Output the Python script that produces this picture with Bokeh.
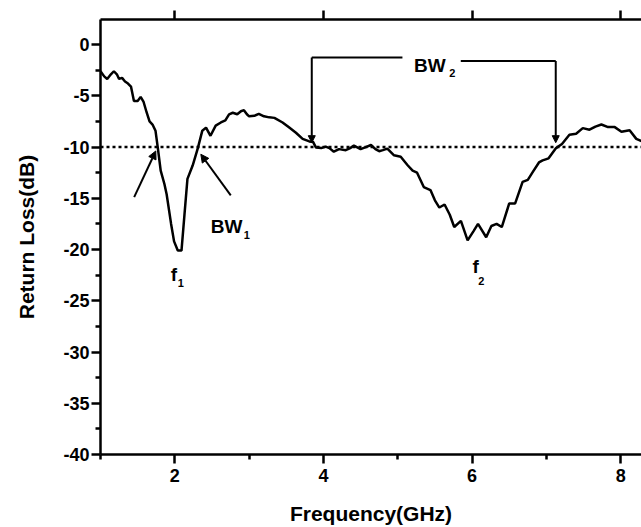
from bokeh.plotting import figure
from bokeh.models import (ColumnDataSource, LinearAxis, FixedTicker, Span, Arrow,
                          NormalHead, Range1d)
from bokeh.embed import file_html
from bokeh.resources import INLINE
from bokeh.core.properties import value

# ---------------- data ----------------
freq = [1.00, 1.05, 1.09, 1.14, 1.18, 1.22, 1.25, 1.29, 1.33, 1.37, 1.41, 1.45, 1.50,
        1.54, 1.58, 1.62, 1.66, 1.70, 1.74, 1.77, 1.81, 1.86, 1.89, 1.95, 1.99, 2.04,
        2.09, 2.13, 2.17, 2.24, 2.31, 2.37, 2.42, 2.48, 2.55, 2.62, 2.68, 2.73, 2.78,
        2.84, 2.89, 2.93, 2.97, 3.00, 3.07, 3.13, 3.20, 3.27, 3.34, 3.45, 3.54, 3.63,
        3.72, 3.81, 3.86, 3.90, 3.97, 4.03, 4.08, 4.14, 4.21, 4.30, 4.36, 4.41, 4.50,
        4.57, 4.64, 4.70, 4.75, 4.80, 4.86, 4.95, 5.04, 5.13, 5.20, 5.26, 5.35, 5.44,
        5.50, 5.56, 5.63, 5.70, 5.76, 5.85, 5.94, 6.02, 6.08, 6.19, 6.26, 6.33, 6.40,
        6.50, 6.58, 6.68, 6.75, 6.82, 6.90, 6.95, 7.03, 7.13, 7.21, 7.31, 7.40, 7.49,
        7.58, 7.66, 7.74, 7.83, 7.92, 8.01, 8.12, 8.21, 8.29]
return_loss = [-2.6, -3.1, -3.35, -2.9, -2.6, -2.9, -3.35, -3.25, -3.6, -3.8, -4.1, -5.5, -5.5,
               -5.1, -5.6, -6.6, -7.5, -7.8, -8.4, -10.0, -12.3, -13.6, -14.6, -17.5, -19.2, -20.1,
               -20.1, -16.6, -13.1, -11.8, -10.1, -8.4, -8.1, -8.9, -7.9, -7.6, -7.4, -6.8, -6.65,
               -6.8, -6.5, -6.4, -6.8, -7.0, -6.95, -6.75, -7.0, -7.1, -7.15, -7.6, -8.1, -8.6,
               -9.2, -9.45, -9.5, -10.05, -10.1, -9.95, -10.1, -10.45, -10.2, -10.3, -10.1, -9.85, -10.2,
               -10.0, -9.8, -10.2, -10.4, -10.3, -10.15, -10.8, -10.95, -11.75, -12.3, -12.5, -13.9, -14.2,
               -15.2, -15.9, -15.6, -16.6, -17.8, -17.2, -19.1, -18.2, -17.5, -18.8, -17.7, -17.5, -17.8,
               -15.5, -15.5, -13.4, -13.2, -12.4, -11.5, -11.3, -11.1, -10.1, -9.7, -8.8, -8.7, -8.15,
               -8.3, -8.0, -7.8, -8.05, -8.05, -8.5, -8.35, -9.2, -9.45]

threshold_db = -10

x_major = [2, 4, 6, 8]
x_minor = [1, 3, 5, 7]
y_major = [0, -5, -10, -15, -20, -25, -30, -35, -40]
y_minor = [-2.5, -7.5, -12.5, -17.5, -22.5, -27.5, -32.5, -37.5]

# annotation: BW1 arrows
bw1_x_start = [1.453, 2.753]
bw1_y_start = [-14.88, -14.72]
bw1_x_end = [1.744, 2.350]
bw1_y_end = [-10.38, -10.70]

# annotation: BW2 bracket
bw2_h_x0 = [3.843, 5.848]
bw2_h_x1 = [5.063, 7.126]
bw2_h_y = [-1.26, -1.61]
bw2_v_x = [3.843, 7.126]
bw2_v_top = [-1.26, -1.61]
bw2_v_tip = [-9.57, -9.57]

# labels (main part + subscript)
lab_main = ["BW", "BW", "f", "f"]
lab_main_x = [2.484, 5.219, 1.946, 6.005]
lab_main_y = [-17.78, -2.00, -22.48, -21.64]
lab_sub = ["1", "2", "1", "2"]
lab_sub_x = [2.928, 5.693, 2.040, 6.083]
lab_sub_y = [-18.62, -2.80, -23.26, -23.06]

FONT = "Liberation Sans"
LW = 2.5

# ---------------- figure ----------------
p = figure(width=641, height=527, output_backend="svg", toolbar_location=None,
           x_range=Range1d(1, 8.28), y_range=Range1d(-40, 2.45),
           min_border_left=100, min_border_right=0, min_border_top=19, min_border_bottom=69,
           x_axis_label="Frequency(GHz)", y_axis_label="Return Loss(dB)")
p.grid.visible = False
p.outline_line_color = None
p.background_fill_color = "white"
p.border_fill_color = "white"

p.xaxis.ticker = FixedTicker(ticks=x_major, minor_ticks=x_minor)
p.yaxis.ticker = FixedTicker(ticks=y_major, minor_ticks=y_minor)
p.xaxis.major_label_overrides = {t: str(t) for t in x_major}
p.yaxis.major_label_overrides = {t: str(t) for t in y_major}

for ax in (p.xaxis[0], p.yaxis[0]):
    ax.axis_line_width = LW
    ax.axis_line_color = "black"
    ax.major_tick_line_width = LW
    ax.minor_tick_line_width = LW
    ax.major_tick_out = 9
    ax.major_tick_in = 0
    ax.minor_tick_out = 5
    ax.minor_tick_in = 0
    ax.major_label_text_font = FONT
    ax.major_label_text_font_style = "bold"
    ax.major_label_text_font_size = "18px"
    ax.major_label_text_color = "black"
    ax.axis_label_text_font = FONT
    ax.axis_label_text_font_style = "bold"
    ax.axis_label_text_font_size = "21px"
    ax.axis_label_text_color = "black"

p.yaxis[0].major_label_standoff = 2
p.yaxis[0].axis_label_standoff = 22
p.xaxis[0].major_label_standoff = 5
p.xaxis[0].axis_label_standoff = 17

top = LinearAxis(ticker=FixedTicker(ticks=x_major, minor_ticks=[]),
                 major_label_text_font_size="2px", major_label_text_color=None,
                 axis_line_width=LW, major_tick_line_width=LW,
                 major_tick_out=9, major_tick_in=0,
                 minor_tick_line_color=None, major_label_standoff=0)
p.add_layout(top, "above")

# threshold line
p.add_layout(Span(location=threshold_db, dimension="width", line_color="black",
                  line_width=LW, line_dash="3 3"))

# curve
src = ColumnDataSource(dict(f=freq, rl=return_loss))
p.line("f", "rl", source=src, line_color="black", line_width=LW)

# BW1 arrows
for xs, ys, xe, ye in zip(bw1_x_start, bw1_y_start, bw1_x_end, bw1_y_end):
    p.add_layout(Arrow(end=NormalHead(size=8, fill_color="black", line_color="black", line_width=1),
                       x_start=xs, y_start=ys, x_end=xe, y_end=ye,
                       line_color="black", line_width=2))

# BW2 bracket
p.segment(x0=bw2_h_x0, y0=bw2_h_y, x1=bw2_h_x1, y1=bw2_h_y, line_color="black", line_width=2)
for xv, yt, yb in zip(bw2_v_x, bw2_v_top, bw2_v_tip):
    p.add_layout(Arrow(end=NormalHead(size=7, fill_color="black", line_color="black", line_width=1),
                       x_start=xv, y_start=yt, x_end=xv, y_end=yb,
                       line_color="black", line_width=2))

# labels
p.text(x=lab_main_x, y=lab_main_y, text=lab_main, text_font=value(FONT),
       text_font_style="bold", text_font_size="19px", text_align="left",
       text_baseline="alphabetic", text_color="black")
p.text(x=lab_sub_x, y=lab_sub_y, text=lab_sub, text_font=value(FONT),
       text_font_style="bold", text_font_size="11px", text_align="left",
       text_baseline="alphabetic", text_color="black")

open("out.html", "w").write(file_html(p, INLINE))
